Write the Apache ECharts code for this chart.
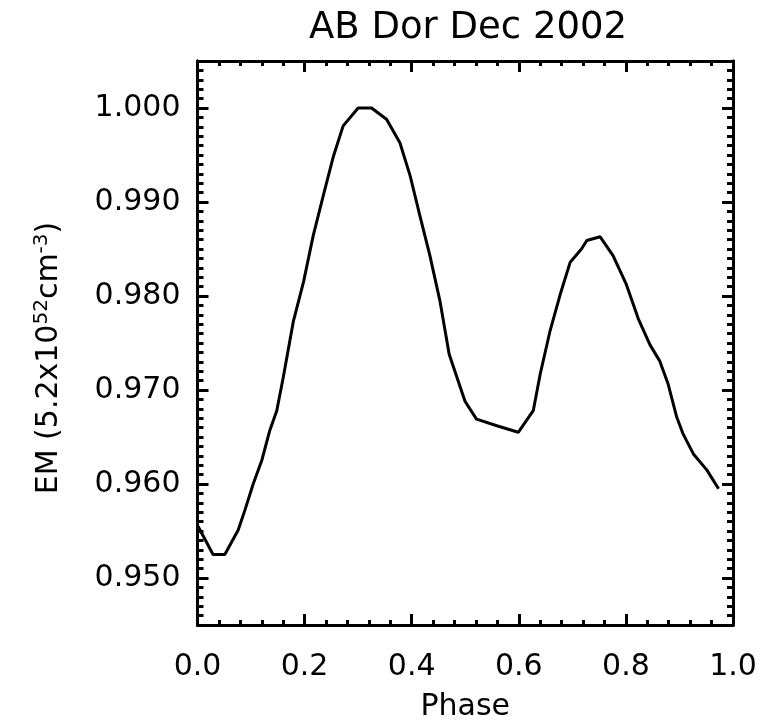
<!DOCTYPE html>
<html>
<head>
<meta charset="utf-8">
<script src="https://cdn.jsdelivr.net/npm/echarts@6/dist/echarts.min.js"></script>
<style>html,body{margin:0;padding:0;background:#fff;}#c{width:774px;height:727px;}</style>
</head>
<body>
<div id="c"></div>
<script>
var titleText = 'AB Dor Dec 2002';
var phases = [0.001,0.029,0.051,0.076,0.089,0.104,0.120,0.135,0.148,0.160,0.179,0.198,0.216,0.235,0.254,0.272,0.300,0.325,0.353,0.378,0.397,0.415,0.434,0.453,0.470,0.4995,0.521,0.559,0.599,0.627,0.640,0.658,0.677,0.696,0.717,0.727,0.752,0.776,0.801,0.823,0.845,0.863,0.879,0.895,0.907,0.926,0.951,0.973];
var emValues = [0.9555,0.9525,0.9525,0.9551,0.9573,0.9600,0.9625,0.9657,0.9678,0.9713,0.9773,0.9815,0.9864,0.9907,0.9949,0.9981,1.0000,1.0000,0.9988,0.9963,0.9928,0.9886,0.9843,0.9794,0.9738,0.9688,0.9669,0.9662,0.9655,0.9678,0.9717,0.9762,0.9801,0.9836,0.9850,0.9859,0.9863,0.9843,0.9812,0.9776,0.9748,0.9731,0.9706,0.9671,0.9653,0.9632,0.9615,0.9595];
var yTickValues = [0.950,0.960,0.970,0.980,0.990,1.000];
var xTickValues = [0.0,0.2,0.4,0.6,0.8,1.0];

var data = phases.map(function(p,i){return [p, emValues[i]];});
var FONT = 'DejaVu Sans';
var lineStyle = {color:'#000', width:3};

function yAxisDef(pos, major, showLabel) {
  var a = {
    type:'value', position: pos, min:0.945, max:1.005,
    axisLine:{show:true, lineStyle:lineStyle},
    splitLine:{show:false},
    axisTick:{show:true, inside:true, length: major?11:6, lineStyle:{color:'#000', width:3}},
    axisLabel:{show:false}
  };
  if (major) {
    a.axisTick.customValues = yTickValues;
    a.axisLabel = {show:showLabel, customValues: yTickValues, fontFamily:FONT, fontSize:30, color:'#000', margin:17,
      formatter:function(v){return v.toFixed(3);}};
  } else {
    a.interval = 0.001;
  }
  return a;
}

var option = {
  backgroundColor:'#fff',
  animation:false,
  title:{text:titleText, left:463, top:5, textAlign:'center',
    textStyle:{fontFamily:FONT, fontSize:37, fontWeight:'normal', color:'#000'}},
  grid:{left:197.5, right:41, top:61, bottom:98, containLabel:false},
  xAxis:[
    {type:'value', position:'bottom', min:0, max:1, interval:0.2,
     name:'Phase', nameLocation:'middle', nameGap:67,
     nameTextStyle:{fontFamily:FONT, fontSize:30, color:'#000'},
     axisLine:{show:true, lineStyle:lineStyle}, splitLine:{show:false},
     axisTick:{show:true, inside:true, length:11, lineStyle:{color:'#000', width:3}},
     minorTick:{show:true, splitNumber:5, length:5, lineStyle:{color:'#000', width:3}},
     axisLabel:{fontFamily:FONT, fontSize:30, color:'#000', margin:27,
       formatter:function(v){return v.toFixed(1);}}},
    {type:'value', position:'top', min:0, max:1, interval:0.2,
     axisLine:{show:true, lineStyle:lineStyle}, splitLine:{show:false},
     axisTick:{show:true, inside:true, length:11, lineStyle:{color:'#000', width:3}},
     minorTick:{show:true, splitNumber:5, length:5, lineStyle:{color:'#000', width:3}},
     axisLabel:{show:false}}
  ],
  yAxis:[
    Object.assign(yAxisDef('left', true, true), {
      name:'{a|EM (5.2x10}{s|52}{a|cm}{s|-3}{a|)}', nameLocation:'middle', nameGap:130,
      nameTextStyle:{fontFamily:FONT, fontSize:30, color:'#000', padding:[0,30,0,0], rich:{
        a:{fontFamily:FONT, fontSize:30, color:'#000'},
        s:{fontFamily:FONT, fontSize:20, color:'#000', padding:[0,0,16,0]}
      }}
    }),
    yAxisDef('left', false, false),
    yAxisDef('right', true, false),
    yAxisDef('right', false, false)
  ],
  series:[{type:'line', xAxisIndex:0, yAxisIndex:0, data:data, symbol:'none', smooth:false,
    lineStyle:{color:'#000', width:3}, silent:true}]
};
echarts.init(document.getElementById('c')).setOption(option);
</script>
</body>
</html>
